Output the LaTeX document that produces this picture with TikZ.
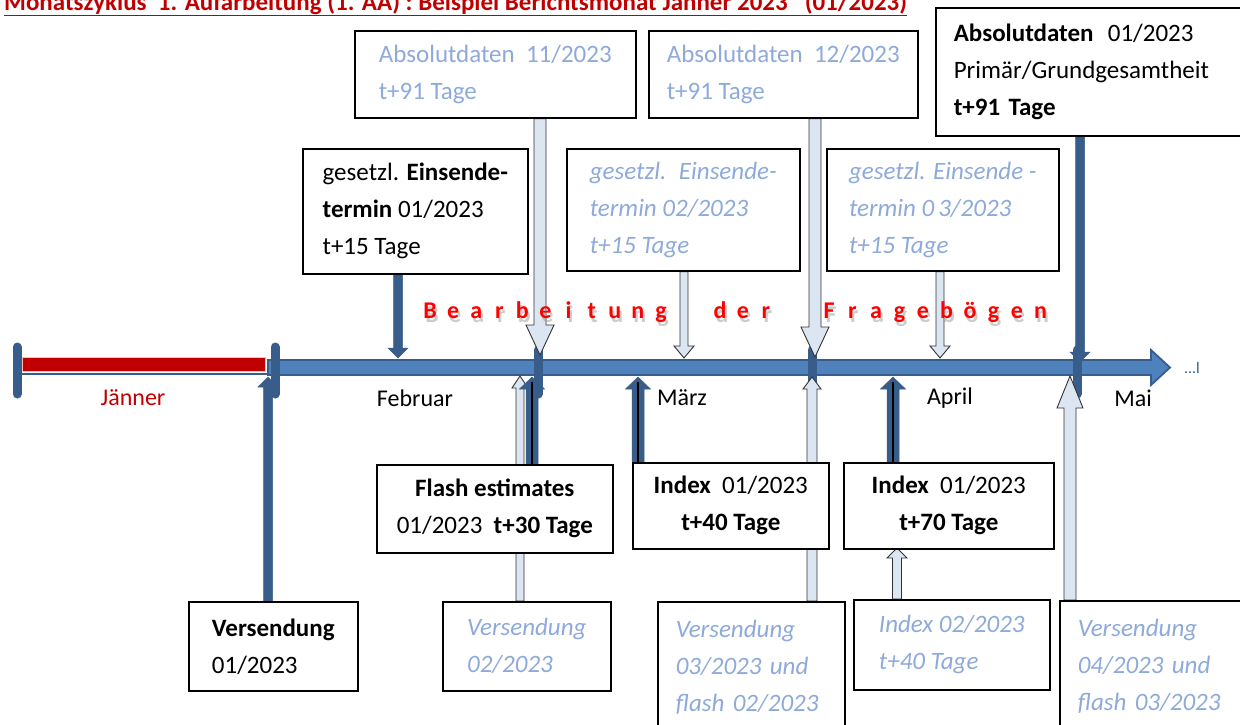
\documentclass[tikz,border=0pt]{standalone}
\usepackage{fontspec}
\setmainfont{Carlito}
\usetikzlibrary{calc}

\definecolor{darkblue}{RGB}{56,93,138}
\definecolor{barblue}{RGB}{79,129,189}
\definecolor{paleshaft}{RGB}{220,230,242}
\definecolor{paletext}{RGB}{142,170,219}
\definecolor{titlered}{RGB}{192,0,0}

\pgfdeclarelayer{bg}
\pgfdeclarelayer{mid}
\pgfsetlayers{bg,mid,main}

\tikzset{
  box/.style={draw, line width=1.6pt, fill=white, anchor=north west, align=left,
    inner xsep=18pt, inner ysep=0pt, font=\fontsize{25}{37}\selectfont},
  boxc/.style={box, align=center},
  pale/.style={text=paletext},
  paleit/.style={text=paletext, font=\fontsize{25}{37}\selectfont\itshape},
  month/.style={font=\fontsize{24}{28}\selectfont},
  tick/.style={draw=darkblue, line width=9pt, line cap=round},
  blockarrow/.style n args={3}{to path={
    ($(\tikztostart)+(-#1,0)$) -- ($(\tikztotarget)+(-#1,#3)$) -- ($(\tikztotarget)+(-#2,#3)$)
    -- (\tikztotarget) -- ($(\tikztotarget)+(#2,#3)$) -- ($(\tikztotarget)+(#1,#3)$)
    -- ($(\tikztostart)+(#1,0)$) -- cycle}},
  palearrow/.style={draw=black!80, line width=0.9pt, fill=paleshaft, line join=miter},
  darkarrow/.style={draw=darkblue, line width=0.5pt, fill=darkblue},
  coreline/.style={draw=black, line width=1.6pt},
  wave/.style={text=red, font=\bfseries\fontsize{24}{28}\selectfont, anchor=base, inner sep=0pt},
  waveshadow/.style={wave, text=black!40, opacity=.5},
}

\begin{document}
\begin{tikzpicture}[x=1pt, y=-1pt]
\useasboundingbox (0,0) rectangle (1240,724);
\clip (0,0) rectangle (1240,724);

% title
\node[anchor=base west, text=titlered, inner sep=0pt,
  font=\bfseries\fontsize{25}{29}\selectfont] (title) at (4,10)
  {\underline{Monatszyklus\ \ 1. Aufarbeitung (1. AA) : Beispiel Berichtsmonat Jänner 2023\ \ \ (01/2023)}};

% time axis
\begin{pgfonlayer}{bg}
  \draw[fill=titlered, draw=red!25, line width=0.8pt] (22,357) rectangle (265,371);
  \draw[darkblue, line width=2.5pt] (17,374) -- (275,374);
  \draw[fill=barblue, draw=darkblue, line width=1.8pt, line join=miter]
    (268,360) -- (1151,360) -- (1151,350) -- (1170,367.5) -- (1151,385) -- (1151,375) -- (268,375) -- cycle;
  \draw[tick] (17,347) -- (17,394);
  \draw[tick] (275,347) -- (275,394);
  \draw[tick] (538,350) -- (538,394);
  \draw[tick] (812,350) -- (812,394);
  \draw[tick] (1077,350) -- (1077,394);
\end{pgfonlayer}
\node[text=darkblue, font=\fontsize{16}{18}\selectfont] (dots) at (1192,368) {...l};

\node[month, text=titlered] (jan) at (133,398) {Jänner};
\node[month] (feb) at (415,398) {Februar};
\node[month] (mar) at (682,398) {März};
\node[month] (apr) at (950,398) {April};
\node[month] (mai) at (1133,398) {Mai};

% Bearbeitung der Frageboegen
\foreach \ch [count=\i from 0] in {B,e,a,r,b,e,i,t,u,n,g} {
  \node[waveshadow] (bs\i) at (432+23.1*\i,322) {\ch};
  \node[wave] (bw\i) at (430+23.1*\i,318) {\ch};
}
\foreach \ch [count=\i from 0] in {d,e,r} {
  \node[waveshadow] (ds\i) at (722+23*\i,322) {\ch};
  \node[wave] (dw\i) at (720+23*\i,318) {\ch};
}
\foreach \ch [count=\i from 0] in {F,r,a,g,e,b,ö,g,e,n} {
  \node[waveshadow] (fs\i) at (831+23.5*\i,322) {\ch};
  \node[wave] (fw\i) at (829+23.5*\i,318) {\ch};
}

% boxes above
\node[box, pale, minimum width=281pt, minimum height=87pt] (abs11) at (354,30)
  {Absolutdaten\ \ 11/2023\\t+91 Tage};
\node[box, pale, minimum width=269pt, minimum height=87pt] (abs12) at (648,30)
  {Absolutdaten\ \ 12/2023\\t+91 Tage};
\node[box, text width=290pt, minimum height=128pt] (abs01) at (935,7)
  {\textbf{Absolutdaten}\hspace{6pt} 01/2023\\Primär/Grundgesamtheit\\\textbf{t+91 Tage}};
\node[box, minimum width=225pt, minimum height=125pt] (ein01) at (302,148)
  {gesetzl. \textbf{Einsende-}\\\textbf{termin} 01/2023\\t+15 Tage};
\node[box, paleit, minimum width=233pt, minimum height=122pt] (ein02) at (566,148)
  {gesetzl.\hspace{5pt} Einsende-\\termin 02/2023\\t+15 Tage};
\node[box, paleit, minimum width=232pt, minimum height=122pt] (ein03) at (826,148)
  {gesetzl. Einsende -\\termin 0\hspace{4pt}3/2023\\t+15 Tage};

% boxes below
\node[boxc, minimum width=236pt, minimum height=88pt] (flash) at (376,464)
  {\textbf{Flash estimates}\\01/2023\ \ \textbf{t+30 Tage}};
\node[boxc, minimum width=196pt, minimum height=86pt] (idx40) at (632,462)
  {\textbf{Index}\ \ 01/2023\\\textbf{t+40 Tage}};
\node[boxc, minimum width=210pt, minimum height=86pt] (idx70) at (843,462)
  {\textbf{Index}\ \ 01/2023\\\textbf{t+70 Tage}};
\node[box, minimum width=169pt, minimum height=89pt] (vers01) at (188,601)
  {\textbf{Versendung}\\01/2023};
\node[box, paleit, minimum width=168pt, minimum height=89pt] (vers02) at (442,601)
  {Versendung\\02/2023};
\node[box, paleit, text width=151pt, minimum height=130pt] (vers03) at (657,601)
  {Versendung\\03/2023 und\\flash 02/2023};
\node[box, paleit, minimum width=196pt, minimum height=90pt] (idx02) at (853,599)
  {Index 02/2023\\t+40 Tage};
\node[box, paleit, text width=170pt, minimum height=130pt] (vers04) at (1059,600)
  {Versendung\\04/2023 und\\flash 03/2023};

% arrow ends on the axis
\coordinate (tA) at (398,358);
\coordinate (tB) at (540,355);
\coordinate (tC) at (815,357);
\coordinate (tD) at (1080,362);
\coordinate (tE) at (684,358);
\coordinate (tF) at (940,358);
\coordinate (tG) at (268,377);
\coordinate (tH) at (532,377);
\coordinate (tV) at (520,376);
\coordinate (tI) at (638,377);
\coordinate (tJ) at (812,377);
\coordinate (tK) at (893,377);
\coordinate (tL) at (897,548);
\coordinate (tM) at (1070,376);

\begin{pgfonlayer}{mid}
  \draw[darkarrow, blockarrow={4.5}{10}{-10}] (ein01.south -| tA) to (tA);
  \draw[palearrow, blockarrow={6}{14}{-30}] (abs11.south -| tB) to (tB);
  \draw[palearrow, blockarrow={6}{14}{-30}] (abs12.south -| tC) to (tC);
  \draw[darkarrow, blockarrow={4.5}{10}{-10}] (abs01.south -| tD) to (tD);
  \draw[palearrow, blockarrow={4}{10}{-12}] (ein02.south -| tE) to (tE);
  \draw[palearrow, blockarrow={4}{10}{-12}] (ein03.south -| tF) to (tF);

  \draw[darkarrow, blockarrow={4.5}{10}{10}] (vers01.north -| tG) to (tG);
  \draw[palearrow, blockarrow={4}{8}{12}] (vers02.north -| tV) to (tV);
  \draw[darkarrow, blockarrow={6}{12.5}{12}] (flash.north -| tH) to (tH);
  \draw[darkarrow, blockarrow={6}{12.5}{12}] (idx40.north -| tI) to (tI);
  \draw[palearrow, blockarrow={5}{9}{12}] (vers03.north -| tJ) to (tJ);
  \draw[darkarrow, blockarrow={6}{12.5}{12}] (idx70.north -| tK) to (tK);
  \draw[palearrow, blockarrow={4.5}{10}{10}] (idx02.north -| tL) to (tL);
  \draw[palearrow, blockarrow={6}{13}{32}] (vers04.north -| tM) to (tM);

  \draw[coreline] ([yshift=-5pt]tH) -- (flash.north -| tH);
  \draw[coreline] ([yshift=-5pt]tI) -- (idx40.north -| tI);
  \draw[coreline] ([yshift=-5pt]tK) -- (idx70.north -| tK);
\end{pgfonlayer}
\end{tikzpicture}
\end{document}
